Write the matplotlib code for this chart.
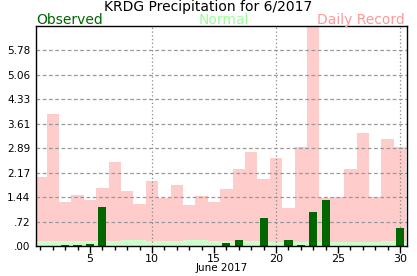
import matplotlib
matplotlib.use("Agg")
import matplotlib.pyplot as plt
import numpy as np

days = list(range(1, 31))
observed = [0, 0, 0.02, 0.02, 0.06, 1.15, 0, 0, 0, 0,
            0, 0, 0, 0, 0, 0.09, 0.19, 0, 0.84, 0,
            0.19, 0.03, 1.01, 1.36, 0, 0, 0, 0, 0, 0.54]
normal = [0.15, 0.15, 0.15, 0.15, 0.15, 0.15, 0.16, 0.18, 0.18, 0.16,
          0.16, 0.16, 0.18, 0.18, 0.15, 0.15, 0.15, 0.15, 0.15, 0.13,
          0.13, 0.13, 0.13, 0.13, 0.13, 0.13, 0.13, 0.13, 0.15, 0.15]
record = [2.05, 3.90, 1.30, 1.51, 1.36, 1.71, 2.48, 1.63, 1.24, 1.92,
          1.42, 1.80, 1.21, 1.48, 1.30, 1.68, 2.27, 2.78, 1.98, 2.60,
          1.12, 2.93, 6.50, 1.43, 1.45, 2.27, 3.35, 1.46, 3.17, 2.93]
ymax = 6.5
title = "KRDG Precipitation for 6/2017"
xlabel = "June 2017"

fig = plt.figure(figsize=(4.17, 2.76), dpi=100)
ax = fig.add_axes([36/417, 30/276, 371/417, 220/276])

ax.bar(days, record, width=1.0, color="#ffcccc", zorder=1, linewidth=0)
ax.bar(days, normal, width=1.0, color="#ccffcc", zorder=2, linewidth=0)
ax.bar(days, observed, width=0.66, color="#006600", zorder=4, linewidth=0)

ax.set_xlim(0.65, 30.56)
ax.set_ylim(0, ymax)

yt = [i * ymax / 9 for i in range(9)]
ax.set_yticks(yt)
labels = []
for v in yt:
    s = f"{v:.2f}"
    if s.startswith("0"):
        s = s[1:]
    labels.append(s)
ax.set_yticklabels(labels, fontsize=7.5)
ax.tick_params(axis="y", length=0, pad=4)

ax.set_xticks([5, 10, 15, 20, 25, 30])
ax.set_xticks(days, minor=True)
ax.tick_params(axis="x", which="major", length=5, width=1, labelsize=8, pad=1)
ax.tick_params(axis="x", which="minor", length=3, width=1)
ax.set_xlabel(xlabel, fontsize=7.5, labelpad=-1)

for v in yt[1:]:
    ax.axhline(v, color="#999999", linestyle=(0, (3, 2)), linewidth=0.9, zorder=3)
for d in [10, 20, 30]:
    ax.axvline(d, color="#888888", linestyle=(0, (1, 2)), linewidth=0.9, zorder=3)

for s in ax.spines.values():
    s.set_linewidth(1)
    s.set_color("black")
    s.set_zorder(5)

fig.text(208/417, 1 - 0.5/276, title, ha="center", va="top", fontsize=10)
fig.text(36/417, 1 - 24/276, "Observed", ha="left", va="baseline", fontsize=10, color="#006600")
fig.text(224/417, 1 - 24/276, "Normal", ha="center", va="baseline", fontsize=10, color="#99ff99")
fig.text(405/417, 1 - 24/276, "Daily Record", ha="right", va="baseline", fontsize=10, color="#ff9999")

fig.savefig("out.png", dpi=100)
